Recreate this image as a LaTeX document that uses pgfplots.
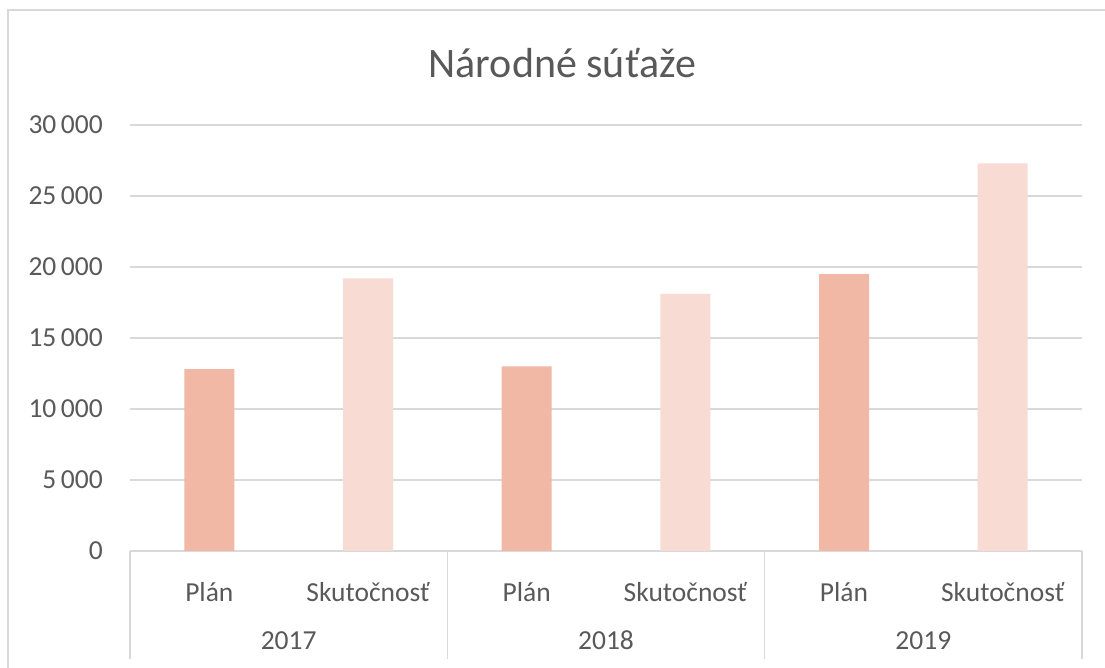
\documentclass[border=0pt]{standalone}
\usepackage{fontspec}
\setmainfont{Carlito}
\usepackage{pgfplots}
\pgfplotsset{compat=1.18}
\definecolor{plan}{HTML}{F0B8A5}
\definecolor{skut}{HTML}{F8DBD3}
\definecolor{gridg}{HTML}{D9D9D9}
\definecolor{txt}{HTML}{595959}
\begin{document}
\begin{tikzpicture}[x=1bp,y=1bp]
\useasboundingbox (0,0) rectangle (1105,668);
\draw[gridg, line width=1.5bp] (8,-20) -- (8,658) -- (1125,658);
\node[font=\fontsize{42bp}{50bp}\selectfont, text=txt, anchor=base] at (562.5,590) {Národné súťaže};
\begin{axis}[
  at={(130bp,117bp)}, anchor=south west, scale only axis,
  width=952bp, height=426bp,
  xmin=-0.5, xmax=5.5, ymin=0, ymax=30000,
  clip=false,
  scaled y ticks=false,
  ybar, bar width=50bp,
  axis line style={draw=none},
  ymajorgrids, grid style={gridg, line width=1.5bp},
  tick style={draw=none},
  ytick={0,5000,10000,15000,20000,25000,30000},
  yticklabels={0,5\,000,10\,000,15\,000,20\,000,25\,000,30\,000},
  yticklabel style={anchor=east, inner sep=0pt, xshift=-27bp},
  tick label style={font=\fontsize{27.5bp}{33bp}\selectfont, text=txt},
  xtick={0,1,2,3,4,5},
  xticklabels={Plán,Skutočnosť,Plán,Skutočnosť,Plán,Skutočnosť},
  xticklabel style={anchor=base, inner sep=0pt, yshift=-46bp},
  xtick pos=bottom,
  extra x ticks={-0.5,1.5,3.5,5.5},
  extra x tick labels={},
  extra x tick style={grid=none, major tick length=108bp, tick align=outside,
    tick style={draw=gridg, line width=1.5bp}},
]
\addplot[fill=plan, draw=none, bar shift=0pt] coordinates {(0,12800) (2,13000) (4,19500)};
\addplot[fill=skut, draw=none, bar shift=0pt] coordinates {(1,19200) (3,18100) (5,27300)};
\node[font=\fontsize{27.5bp}{33bp}\selectfont, text=txt, anchor=base, yshift=-99bp] at (axis cs:0.5,0) {2017};
\node[font=\fontsize{27.5bp}{33bp}\selectfont, text=txt, anchor=base, yshift=-99bp] at (axis cs:2.5,0) {2018};
\node[font=\fontsize{27.5bp}{33bp}\selectfont, text=txt, anchor=base, yshift=-99bp] at (axis cs:4.5,0) {2019};
\end{axis}
\end{tikzpicture}
\end{document}
